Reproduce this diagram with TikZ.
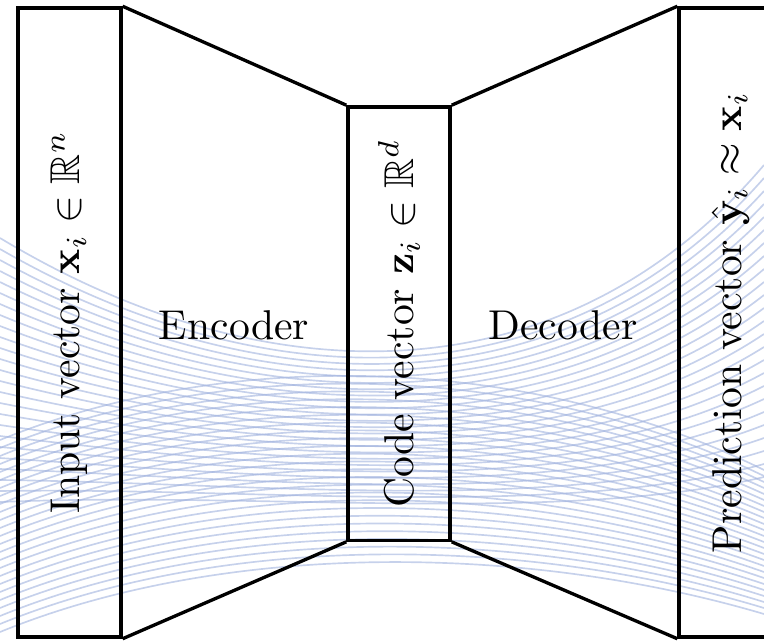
\documentclass[tikz,border=0pt]{standalone}
\usepackage{amsfonts}
\usepackage{amsmath}
\usepackage{amssymb}
\usepackage{tikz}

\definecolor{wavecolor}{RGB}{160,178,222}

\tikzset{
	box/.style={draw, thick, inner sep=0pt, align=center},
	wave/.style={wavecolor, line width=0.4pt, opacity=0.6},
}

\begin{document}
\begin{tikzpicture}[x=0.24pt, y=-0.24pt]
	\useasboundingbox (0,0) rectangle (764,641);
	\clip (0,0) rectangle (764,641);

	\foreach \k in {0,...,24}
		\draw [wave] (0,238+11*\k) .. controls (260,395+4*\k) and (560,405+5*\k) .. (764,165+13*\k);
	\foreach \k in {0,...,24}
		\draw [wave] (0,440+8*\k) .. controls (220,350+8*\k) and (520,350+8*\k) .. (764,470+6*\k);

	\node [box, minimum width=24.7pt, minimum height=151pt] (input) at (69.5,322.5)
		{\rotatebox{90}{Input vector $\mathbf{x}_i \in \mathbb{R}^n$}};
	\node [box, minimum width=24.5pt, minimum height=104pt] (code) at (399,323.5)
		{\rotatebox{90}{Code vector $\mathbf{z}_i \in \mathbb{R}^d$}};
	\node [box, minimum width=24.7pt, minimum height=151pt] (pred) at (730.5,322.5)
		{\rotatebox{90}{Prediction vector $\hat{\mathbf{y}}_i \approx \mathbf{x}_i$}};

	\node (enc) at (234,325) {Encoder};
	\node (dec) at (563,325) {Decoder};

	\path [thick]
	(input.north east) edge (code.north west)
	(input.south east) edge (code.south west)
	(code.north east)  edge (pred.north west)
	(code.south east)  edge (pred.south west);
\end{tikzpicture}
\end{document}
